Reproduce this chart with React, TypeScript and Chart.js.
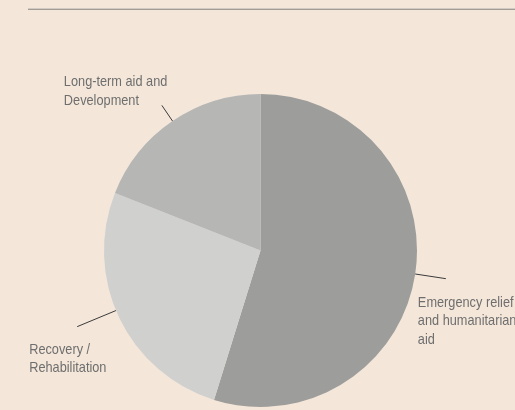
import React, { useEffect, useRef } from "react";
import { Chart, registerables } from "chart.js";

Chart.register(...registerables);

const categories = ["Emergency relief and humanitarian aid", "Recovery / Rehabilitation", "Long-term aid and Development"];
const labelLines = [
  ["Emergency relief", "and humanitarian", "aid"],
  ["Recovery /", "Rehabilitation"],
  ["Long-term aid and", "Development"],
];
const values = [54.8, 26.2, 19.0];
const sliceColors = ["#9d9d9b", "#d0d0cf", "#b6b6b5"];

// leader length, angle shift (deg) and text offset (relative to the leader's outer end)
const leaderLen = [31, 42, 19];
const leaderShift = [0, 3, 0];
const textOffsetX = [-28, -48, -98];
const textOffsetY = [28, 27, -19];

const BG = "#f4e7da";
const NARROW = 0.85;

const labelPlugin = {
  id: "pieLabels",
  afterDatasetsDraw(chart: any) {
    const ctx = chart.ctx;
    const meta = chart.getDatasetMeta(0);
    ctx.save();
    meta.data.forEach((arc: any, i: number) => {
      const { x, y, startAngle, endAngle, outerRadius } = arc.getProps(
        ["x", "y", "startAngle", "endAngle", "outerRadius"],
        true
      );
      const mid = (startAngle + endAngle) / 2 + (leaderShift[i] * Math.PI) / 180;
      const cx = Math.cos(mid);
      const cy = Math.sin(mid);
      const x1 = x + cx * outerRadius;
      const y1 = y + cy * outerRadius;
      const x2 = x + cx * (outerRadius + leaderLen[i]);
      const y2 = y + cy * (outerRadius + leaderLen[i]);
      ctx.strokeStyle = "#3a3a3a";
      ctx.lineWidth = 1;
      ctx.beginPath();
      ctx.moveTo(x1, y1);
      ctx.lineTo(x2, y2);
      ctx.stroke();
      ctx.fillStyle = "#6e6e6e";
      ctx.font = '15px "Liberation Sans", Arial, sans-serif';
      ctx.textAlign = "left";
      ctx.textBaseline = "alphabetic";
      labelLines[i].forEach((line, j) => {
        const tx = x2 + textOffsetX[i];
        const ty = y2 + textOffsetY[i] + j * 18.5;
        ctx.save();
        ctx.translate(tx, ty);
        ctx.scale(NARROW, 1);
        ctx.fillText(line, 0, 0);
        ctx.restore();
      });
    });
    ctx.restore();
  },
};

export default function App() {
  const ref = useRef<HTMLCanvasElement | null>(null);
  useEffect(() => {
    if (!ref.current) return;
    const chart = new Chart(ref.current, {
      type: "pie",
      data: {
        labels: categories,
        datasets: [
          {
            data: values,
            backgroundColor: sliceColors,
            borderWidth: 0,
          },
        ],
      },
      options: {
        responsive: false,
        animation: false,
        layout: { padding: { top: 94, bottom: 3, left: 104, right: 98 } },
        plugins: {
          legend: { display: false },
          tooltip: { enabled: false },
        },
      },
      plugins: [labelPlugin],
    });
    return () => chart.destroy();
  }, []);
  return (
    <div
      style={{
        position: "fixed",
        left: 0,
        top: 0,
        width: 515,
        height: 410,
        background: BG,
        overflow: "hidden",
      }}
    >
      <div
        style={{
          position: "absolute",
          left: 28,
          top: 8,
          width: 487,
          height: 0,
          borderTop: "1px solid #d2cac2",
          borderBottom: "1px solid #a29c96",
        }}
      />
      <canvas ref={ref} width={515} height={410} style={{ position: "absolute", left: 0, top: 0 }} />
    </div>
  );
}
